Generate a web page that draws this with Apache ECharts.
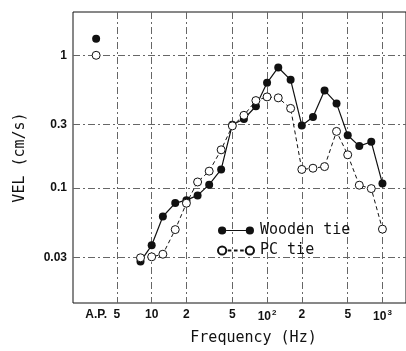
<!DOCTYPE html>
<html>
<head>
<meta charset="utf-8">
<script src="https://cdn.jsdelivr.net/npm/echarts@6/dist/echarts.min.js"></script>
<style>
  html, body { margin: 0; padding: 0; background: #fff; }
  #chart { width: 406px; height: 351px; }
</style>
</head>
<body>
<div id="chart"></div>
<script>
// Third-octave band centre frequencies (Hz)
const frequencies = [8, 10, 12.5, 16, 20, 25, 31.5, 40, 50, 63, 80, 100, 125, 160, 200, 250, 315, 400, 500, 630, 800, 1000];
// Vibration velocity (cm/s) per band
const woodenTie = [0.028, 0.037, 0.061, 0.077, 0.081, 0.088, 0.106, 0.138, 0.30, 0.331, 0.413, 0.62, 0.81, 0.653, 0.296, 0.343, 0.544, 0.434, 0.25, 0.207, 0.223, 0.108];
const pcTie = [0.0298, 0.0303, 0.0317, 0.0486, 0.0768, 0.111, 0.134, 0.194, 0.294, 0.353, 0.456, 0.486, 0.478, 0.398, 0.138, 0.141, 0.145, 0.267, 0.178, 0.105, 0.099, 0.049];
// Overall (A.P.) values
const apWooden = 1.33;
const apPc = 1.0;
const AP_POSITION = 3.3; // where the A.P. column sits on the frequency axis

const xTicks = [5, 10, 20, 50, 100, 200, 500, 1000];
const xTickLabels = ['5', '10', '2', '5', '10{s|2}', '2', '5', '10{s|3}'];
const yTicks = [0.03, 0.1, 0.3, 1];
const yTickLabels = ['0.03', '0.1', '0.3', '1'];

const INK = '#111';
const GRID_LINE = { color: '#666', width: 1, type: [7, 3, 2, 3] };
const TITLE_FONT = 'DejaVu Sans Mono';

// Legend keys: a marker at each end joined by a line (solid / dashed)
const ICON_SOLID = 'path://M0.5,4.5A4,4 0 1,1 8.5,4.5A4,4 0 1,1 0.5,4.5Z' +
  'M27.5,4.5A4,4 0 1,1 35.5,4.5A4,4 0 1,1 27.5,4.5Z' +
  'M8.5,4L27.5,4L27.5,5L8.5,5Z';
const ICON_DASHED = 'path://M0.5,4.5A4,4 0 1,1 8.5,4.5A4,4 0 1,1 0.5,4.5Z' +
  'M27.5,4.5A4,4 0 1,1 35.5,4.5A4,4 0 1,1 27.5,4.5Z' +
  'M10,4.5L13.5,4.5ZM16,4.5L19.5,4.5ZM22,4.5L25.5,4.5Z';

const pairs = (xs, ys) => xs.map((x, i) => [x, ys[i]]);

const chart = echarts.init(document.getElementById('chart'), null, { renderer: 'canvas' });

chart.setOption({
  animation: false,
  backgroundColor: '#fff',
  grid: {
    left: 73, top: 12, right: -2, bottom: 43,
    show: true, borderColor: INK, borderWidth: 1, backgroundColor: 'transparent'
  },
  legend: {
    data: [
      { name: 'Wooden tie', icon: ICON_SOLID },
      { name: 'PC tie', icon: ICON_DASHED }
    ],
    orient: 'vertical',
    left: 212, top: 218,
    itemWidth: 36, itemHeight: 9, itemGap: 5,
    textStyle: { color: INK, fontSize: 15, fontFamily: TITLE_FONT, padding: [0, 0, 0, 1] }
  },
  xAxis: {
    type: 'log', logBase: 10,
    min: 2.08, max: 1600,
    name: 'Frequency (Hz)',
    nameLocation: 'middle', nameGap: 28,
    nameTextStyle: { color: INK, fontSize: 15, fontFamily: TITLE_FONT, padding: [0, 0, 0, 28] },
    axisLine: { show: false },
    axisTick: { show: false, customValues: xTicks },
    splitLine: { show: true, lineStyle: GRID_LINE },
    axisLabel: {
      customValues: [AP_POSITION].concat(xTicks),
      margin: 6,
      color: INK, fontSize: 12, fontWeight: 'bold', fontFamily: 'Liberation Sans',
      formatter: function (v) {
        if (Math.abs(v - AP_POSITION) < 1e-6) return 'A.P.';
        const i = xTicks.findIndex(t => Math.abs(t - v) < 1e-6);
        return i >= 0 ? xTickLabels[i] : '';
      },
      rich: {
        s: { fontSize: 8, fontWeight: 'bold', fontFamily: 'Liberation Sans', color: INK, padding: [0, 0, 8, 1] }
      }
    }
  },
  yAxis: {
    type: 'log', logBase: 10,
    min: 0.0136, max: 2.12,
    name: 'VEL (cm/s)',
    nameLocation: 'middle', nameGap: 45, nameRotate: 90,
    nameTextStyle: { color: INK, fontSize: 15, fontFamily: TITLE_FONT },
    axisLine: { show: false },
    axisTick: { show: false, customValues: yTicks },
    splitLine: { show: true, lineStyle: GRID_LINE },
    axisLabel: {
      customValues: yTicks,
      margin: 6,
      color: INK, fontSize: 12, fontWeight: 'bold', fontFamily: 'Liberation Sans',
      formatter: function (v) {
        const i = yTicks.findIndex(t => Math.abs(t - v) < 1e-9);
        return i >= 0 ? yTickLabels[i] : '';
      }
    }
  },
  series: [
    {
      name: 'Wooden tie', type: 'line',
      data: pairs(frequencies, woodenTie),
      symbol: 'circle', symbolSize: 8,
      itemStyle: { color: INK },
      lineStyle: { color: INK, width: 1.2 },
      z: 3
    },
    {
      name: 'PC tie', type: 'line',
      data: pairs(frequencies, pcTie),
      symbol: 'circle', symbolSize: 8,
      itemStyle: { color: '#fff', borderColor: INK, borderWidth: 1 },
      lineStyle: { color: INK, width: 1, type: [4, 3] },
      z: 4
    },
    {
      name: 'A.P. wooden', type: 'scatter',
      data: [[AP_POSITION, apWooden]],
      symbol: 'circle', symbolSize: 8,
      itemStyle: { color: INK, opacity: 1 }
    },
    {
      name: 'A.P. PC', type: 'scatter',
      data: [[AP_POSITION, apPc]],
      symbol: 'circle', symbolSize: 8,
      itemStyle: { color: '#fff', borderColor: INK, borderWidth: 1, opacity: 1 }
    }
  ]
});
</script>
</body>
</html>
